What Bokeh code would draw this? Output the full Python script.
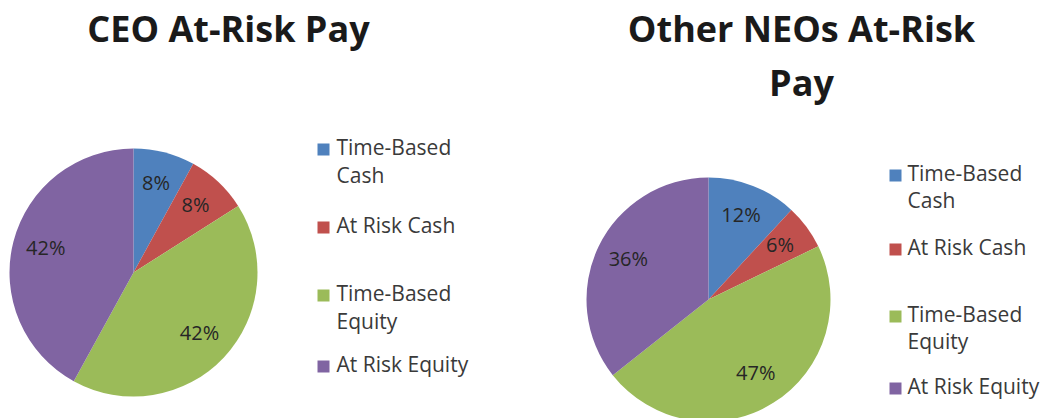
import math
import textwrap
from bokeh.plotting import figure
from bokeh.models import ColumnDataSource, Range1d
from bokeh.core.properties import value
from bokeh.embed import file_html
from bokeh.resources import INLINE

# ---- data ----
categories = ["Time-Based Cash", "At Risk Cash", "Time-Based Equity", "At Risk Equity"]
colors = ["#4F81BD", "#C0504D", "#9BBB59", "#8064A2"]
ceo_pct = [8, 8, 42, 42]
neo_pct = [12, 6, 47, 36]
titles = ["CEO At-Risk Pay", "Other NEOs At-Risk Pay"]

# ---- layout ----
W, H = 1042, 418
FONT = value("Open Sans")
SHIFT = 0.46  # baseline correction, fraction of font size

p = figure(width=W, height=H, x_range=Range1d(0, W), y_range=Range1d(0, H),
           min_border=0, toolbar_location=None, output_backend="svg",
           x_axis_type=None, y_axis_type=None)
p.grid.visible = False
p.outline_line_color = None
p.background_fill_color = "white"
p.border_fill_color = "white"


def X(ix):
    return ix


def Y(iy):
    return H - iy


def draw_pie(vals, cx, cy, r, size, cap):
    tot = float(sum(vals))
    cum = [0.0]
    for v in vals:
        cum.append(cum[-1] + v / tot)
    starts = [math.pi / 2 - 2 * math.pi * c for c in cum[:-1]]
    ends = [math.pi / 2 - 2 * math.pi * c for c in cum[1:]]
    src = ColumnDataSource(dict(start=starts, end=ends, color=colors))
    p.wedge(x=X(cx), y=Y(cy), radius=r, start_angle="start", end_angle="end",
            direction="clock", fill_color="color", line_color=None, source=src)
    lx, ly, lt = [], [], []
    for i, v in enumerate(vals):
        mid = (cum[i] + cum[i + 1]) / 2
        th = math.pi / 2 - 2 * math.pi * mid
        lx.append(X(cx) + 0.73 * r * math.cos(th))
        ly.append(Y(cy) + 0.73 * r * math.sin(th) - cap / 2 + SHIFT * size)
        lt.append(f"{v}%")
    p.text(x=lx, y=ly, text=lt, text_font=FONT, text_font_size=f"{size}px",
           text_align="center", text_baseline="alphabetic", text_color="#262626")


def draw_title(title, cx, base, width_chars, size, lh):
    lines = textwrap.wrap(title, width_chars)
    p.text(x=[X(cx)] * len(lines),
           y=[Y(base + i * lh) + SHIFT * size for i in range(len(lines))],
           text=lines, text_font=FONT, text_font_style="bold", text_font_size=f"{size}px",
           text_align="center", text_baseline="alphabetic", text_color="#1a1a1a")


def draw_legend(sq_x, tx, centers, lh, size, cap):
    xs, ys, ts = [], [], []
    for c, lab in zip(centers, categories):
        for j, line in enumerate(textwrap.wrap(lab, 14)):
            xs.append(X(tx))
            ys.append(Y(c + j * lh) - cap / 2 + SHIFT * size)
            ts.append(line)
    p.scatter(x=[X(sq_x)] * len(centers), y=[Y(c) for c in centers], marker="square",
              size=12, fill_color=colors, line_color=None)
    p.text(x=xs, y=ys, text=ts, text_font=FONT, text_font_size=f"{size}px",
           text_align="left", text_baseline="alphabetic", text_color="#3a3a3a")


# CEO pie
draw_pie(ceo_pct, 133, 272, 124, 20, 14)
draw_title(titles[0], 228, 45, 18, 36, 55)
draw_legend(323, 336, [149, 227, 295, 366], 28, 21, 15)

# Other NEOs pie
draw_pie(neo_pct, 708, 299, 122, 20, 14)
draw_title(titles[1], 801, 45, 18, 36, 54)
draw_legend(895, 907, [175, 249, 316, 388], 27, 21, 15)

open("out.html", "w").write(file_html(p, INLINE))
